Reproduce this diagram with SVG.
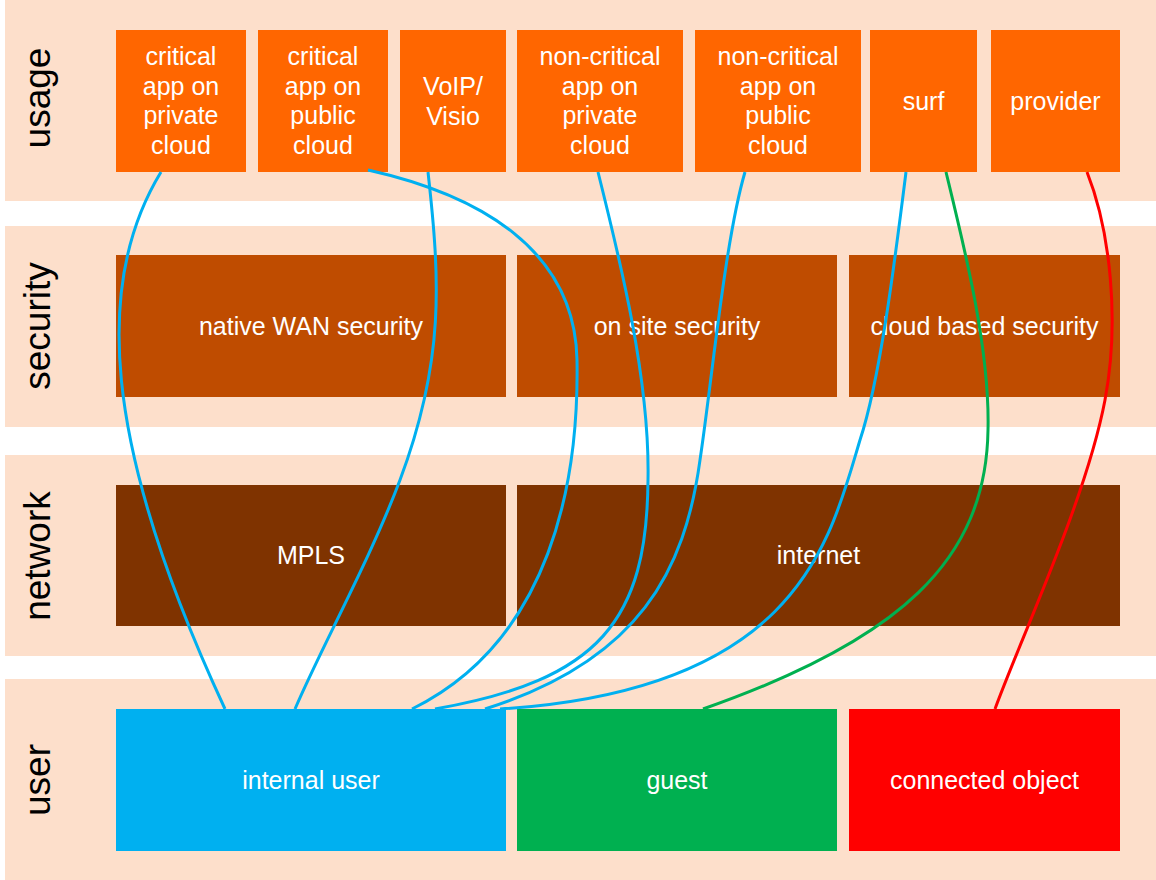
<svg xmlns="http://www.w3.org/2000/svg" width="1156" height="880" viewBox="0 0 1156 880">
<style>
.band{fill:#FDDFCB}
.use{fill:#FF6600}
.sec{fill:#BF4C00}
.net{fill:#7F3300}
.t{font-family:"Liberation Sans",Arial,Helvetica,sans-serif;font-size:25px;fill:#FFFFFF;text-anchor:middle}
.side{font-family:"Liberation Sans",Arial,Helvetica,sans-serif;font-size:37px;fill:#000000;text-anchor:middle}
.c{fill:none;stroke-width:3}
.blue{stroke:#00B0F0}
.green{stroke:#00B050}
.red{stroke:#FF0000}
</style>
<rect width="1156" height="880" fill="#FFFFFF"/>
<g id="bands">
<rect class="band" x="5" y="0" width="1151" height="201"/>
<rect class="band" x="5" y="226" width="1151" height="201"/>
<rect class="band" x="5" y="455" width="1151" height="201"/>
<rect class="band" x="5" y="679" width="1151" height="201"/>
<text class="side" transform="translate(50,98) rotate(-90)">usage</text>
<text class="side" transform="translate(50,326) rotate(-90)">security</text>
<text class="side" transform="translate(50,556) rotate(-90)">network</text>
<text class="side" transform="translate(50,780) rotate(-90)">user</text>
</g>
<g id="critical-private"><rect class="use" x="116" y="30" width="130" height="142"/><text class="t" x="181" y="65">critical<tspan x="181" dy="29.7">app on</tspan><tspan x="181" dy="29.7">private</tspan><tspan x="181" dy="29.7">cloud</tspan></text></g>
<g id="critical-public"><rect class="use" x="258" y="30" width="130" height="142"/><text class="t" x="323" y="65">critical<tspan x="323" dy="29.7">app on</tspan><tspan x="323" dy="29.7">public</tspan><tspan x="323" dy="29.7">cloud</tspan></text></g>
<g id="voip"><rect class="use" x="400" y="30" width="106" height="142"/><text class="t" x="453" y="95">VoIP/<tspan x="453" dy="29.7">Visio</tspan></text></g>
<g id="noncritical-private"><rect class="use" x="517" y="30" width="166" height="142"/><text class="t" x="600" y="65">non-critical<tspan x="600" dy="29.7">app on</tspan><tspan x="600" dy="29.7">private</tspan><tspan x="600" dy="29.7">cloud</tspan></text></g>
<g id="noncritical-public"><rect class="use" x="695" y="30" width="166" height="142"/><text class="t" x="778" y="65">non-critical<tspan x="778" dy="29.7">app on</tspan><tspan x="778" dy="29.7">public</tspan><tspan x="778" dy="29.7">cloud</tspan></text></g>
<g id="surf"><rect class="use" x="870" y="30" width="107" height="142"/><text class="t" x="923.5" y="110">surf</text></g>
<g id="provider"><rect class="use" x="991" y="30" width="129" height="142"/><text class="t" x="1055.5" y="110">provider</text></g>
<g id="native-wan-security"><rect class="sec" x="116" y="255" width="390" height="142"/><text class="t" x="311" y="335">native WAN security</text></g>
<g id="on-site-security"><rect class="sec" x="517" y="255" width="320" height="142"/><text class="t" x="677" y="335">on site security</text></g>
<g id="cloud-security"><rect class="sec" x="849" y="255" width="271" height="142"/><text class="t" x="984.5" y="335">cloud based security</text></g>
<g id="mpls"><rect class="net" x="116" y="485" width="390" height="141"/><text class="t" x="311" y="564">MPLS</text></g>
<g id="internet"><rect class="net" x="517" y="485" width="603" height="141"/><text class="t" x="818.5" y="564">internet</text></g>
<g id="internal-user"><rect x="116" y="709" width="390" height="142" fill="#00B0F0"/><text class="t" x="311" y="789">internal user</text></g>
<g id="guest"><rect x="517" y="709" width="320" height="142" fill="#00B050"/><text class="t" x="677" y="789">guest</text></g>
<g id="connected-object"><rect x="849" y="709" width="271" height="142" fill="#FF0000"/><text class="t" x="984.5" y="789">connected object</text></g>
<g id="connectors">
<path class="c blue" d="M161,172 C95,280 100,440 225,709"/>
<path class="c blue" d="M368,170 C480,195 575,250 577,360 C579,480 552,640 412,709"/>
<path class="c blue" d="M428,172 C440,280 445,360 400,480 C370,560 320,650 295,709"/>
<path class="c blue" d="M598,172 C620,260 650,380 648,480 C647,620 600,680 435,709"/>
<path class="c blue" d="M745,172 C725,240 712,380 700,460 C685,570 640,660 485,709"/>
<path class="c blue" d="M906,172 C895,260 880,380 860,440 C830,540 800,690 500,709"/>
<path class="c green" d="M946,172 C965,250 990,350 988,430 C986,560 900,640 703,709"/>
<path class="c red" d="M1087,172 C1110,230 1120,320 1105,400 C1086,500 1020,640 995,709"/>
</g>
</svg>
